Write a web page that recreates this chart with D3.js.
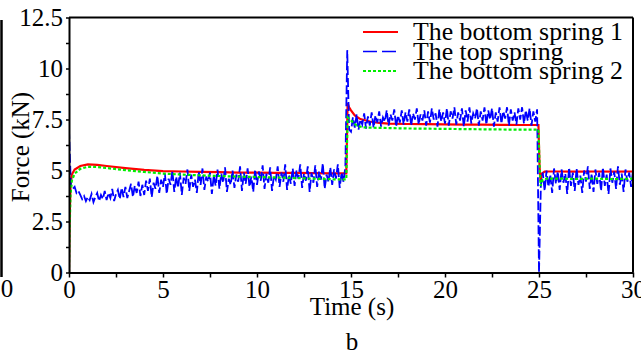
<!DOCTYPE html>
<html>
<head>
<meta charset="utf-8">
<script src="https://cdn.jsdelivr.net/npm/d3@7"></script>
<style>
  html, body { margin: 0; padding: 0; background: #fff; }
  svg { display: block; }
  text { font-family: "Liberation Serif", "Times New Roman", serif; }
</style>
</head>
<body>
<svg id="chart" width="641" height="354"></svg>
<script>
// ---------------- data ----------------
const seriesNames = ["The bottom spring 1", "The top spring", "The bottom spring 2"];

// bottom spring 1 (red)
const redTime = [0, 0.03, 0.08, 0.15, 0.3, 0.6, 1.0, 1.5, 2, 3, 4, 5, 6, 7, 8, 9, 10, 11, 12, 13, 14, 14.75,
  14.82, 14.9, 15.0, 15.2, 15.5, 16, 16.5, 17, 18, 19, 20, 21, 22, 23, 24, 24.97,
  25.03, 25.08, 25.15, 25.3, 26, 27, 28, 29, 30];
const redValues = [0, 2.5, 4.2, 4.8, 5.05, 5.22, 5.3, 5.28, 5.22, 5.12, 5.03, 4.97, 4.95, 4.93, 4.92, 4.9, 4.9, 4.88, 4.88, 4.87, 4.86, 4.86,
  8.3, 8.1, 7.95, 7.7, 7.52, 7.4, 7.33, 7.3, 7.28, 7.27, 7.26, 7.25, 7.25, 7.24, 7.23, 7.23,
  5.2, 4.5, 4.85, 4.95, 4.95, 4.94, 4.95, 4.94, 4.95];

// bottom spring 2 (green)
const greenTime = [0, 0.03, 0.08, 0.15, 0.3, 0.6, 1.0, 1.5, 2, 3, 4, 5, 6, 7, 8, 9, 10, 11, 12, 13, 14, 14.75,
  14.82, 15.0, 15.3, 15.6, 16, 17, 18, 20, 22, 24, 24.97,
  25.03, 25.08, 25.2, 25.4, 26, 27, 28, 29, 30];
const greenValues = [0, 2.0, 3.8, 4.5, 4.85, 5.08, 5.18, 5.17, 5.12, 5.02, 4.93, 4.85, 4.8, 4.76, 4.73, 4.7, 4.68, 4.66, 4.63, 4.6, 4.57, 4.56,
  7.6, 7.45, 7.2, 7.12, 7.1, 7.08, 7.06, 7.04, 7.02, 7.0, 7.0,
  5.3, 4.25, 4.55, 4.6, 4.6, 4.59, 4.6, 4.58, 4.6];

// top spring (blue), sampled every 0.1 s from 0 to 30 s
const blueStart = 0, blueStep = 0.1;
const blueValues = [
  7.0, 4.3, 4.1, 4.2, 3.9, 4.0, 3.8, 3.6, 3.75, 3.5,
  3.7, 3.55, 3.85, 3.45, 3.7, 3.9, 3.5, 3.8, 3.6, 4.0,
  3.55, 3.9, 3.65, 4.1, 3.5, 3.85, 4.05, 3.6, 4.15, 3.7,
  4.2, 3.65, 4.0, 4.35, 3.7, 4.25, 3.9, 4.45, 3.75, 4.3,
  3.8, 4.5, 4.0, 4.6, 3.7, 4.4, 4.1, 4.75, 3.9, 4.55,
  4.2, 4.85, 3.85, 4.6, 4.3, 5.0, 3.95, 4.7, 4.15, 4.9,
  3.8, 4.65, 4.35, 5.05, 4.0, 4.8, 4.2, 4.55, 3.9, 4.95,
  4.3, 5.1, 4.05, 4.7, 4.45, 4.9, 3.85, 4.75, 4.25, 5.05,
  4.1, 4.85, 4.4, 5.15, 3.95, 4.6, 4.3, 5.0, 4.15, 4.8,
  4.45, 5.2, 4.0, 4.9, 4.35, 5.1, 4.2, 4.7, 3.95, 5.05,
  4.3, 4.95, 4.5, 5.25, 4.1, 4.85, 4.4, 5.15, 4.0, 4.75,
  4.55, 5.2, 4.2, 4.9, 4.45, 5.3, 4.05, 4.8, 4.35, 5.1,
  4.25, 5.0, 4.6, 5.3, 4.15, 4.85, 4.5, 5.2, 3.95, 4.9,
  4.4, 5.25, 4.2, 4.95, 4.55, 5.35, 4.1, 4.8, 4.45, 5.15,
  4.3, 5.05, 4.6, 5.3, 4.15, 4.9, 4.45, 5.2, 10.9, 7.0,
  6.9, 7.6, 7.1, 7.75, 7.0, 7.5, 7.25, 7.8, 7.05, 7.65,
  7.2, 7.85, 7.1, 7.7, 7.35, 7.9, 7.15, 7.6, 7.4, 7.95,
  7.2, 7.75, 7.45, 8.0, 7.15, 7.7, 7.35, 7.95, 7.25, 7.85,
  7.4, 8.0, 7.2, 7.8, 7.5, 8.05, 7.25, 7.75, 7.45, 7.95,
  7.2, 7.9, 7.35, 8.05, 7.5, 7.8, 7.15, 8.0, 7.4, 7.85,
  7.3, 8.05, 7.2, 7.9, 7.55, 8.1, 7.25, 7.85, 7.45, 8.05,
  7.15, 7.95, 7.4, 8.1, 7.3, 7.8, 7.55, 8.05, 7.2, 7.9,
  7.45, 8.1, 7.25, 7.95, 7.5, 8.05, 7.15, 7.85, 7.4, 8.1,
  7.3, 7.9, 7.55, 8.1, 7.2, 8.0, 7.45, 7.85, 7.25, 8.05,
  7.5, 8.1, 7.3, 7.95, 7.45, 8.05, 7.2, 7.9, 7.4, 8.0,
  0, 4.3, 4.9, 4.0, 5.0, 4.2, 4.8, 3.9, 5.1, 4.35,
  4.95, 4.05, 5.05, 4.4, 4.85, 3.85, 5.15, 4.25, 4.9, 4.0,
  5.1, 4.3, 4.75, 3.9, 5.0, 4.45, 5.2, 4.1, 4.85, 3.95,
  5.05, 4.35, 4.9, 4.0, 5.15, 4.25, 4.8, 3.85, 5.1, 4.4,
  4.95, 4.1, 5.2, 4.3, 4.85, 3.95, 5.05, 4.45, 4.9, 4.2,
  5.0
];

const xTicks = [0, 2.5, 5, 7.5, 10, 12.5, 15, 17.5, 20, 22.5, 25, 27.5, 30];
const xTickLabels = ["0", "", "5", "", "10", "", "15", "", "20", "", "25", "", "30"];
const yTicks = [0, 1.25, 2.5, 3.75, 5, 6.25, 7.5, 8.75, 10, 11.25, 12.5];
const yTickLabels = ["0", "", "2.5", "", "5", "", "7.5", "", "10", "", "12.5"];

// ---------------- drawing ----------------
const svg = d3.select("#chart");
const FONT = 25;
const SERIF = "'Liberation Serif', 'Times New Roman', serif";
const x = d3.scaleLinear().domain([0, 30]).range([69, 633]);
const y = d3.scaleLinear().domain([0, 12.5]).range([272.5, 17.5]);

svg.append("defs").append("clipPath").attr("id", "plotclip")
  .append("rect").attr("x", x(0)).attr("y", y(12.5))
  .attr("width", x(30) - x(0)).attr("height", y(0) - y(12.5));

const plot = svg.append("g").attr("clip-path", "url(#plotclip)");

const redPts = redTime.map((t, i) => [t, redValues[i]]);
const greenPts = greenTime.map((t, i) => [t, greenValues[i]]);
const bluePts = blueValues.map((v, i) => [blueStart + i * blueStep, v]);

const line = d3.line().x(d => x(d[0])).y(d => y(d[1]));

plot.append("path").datum(redPts).attr("d", line)
  .attr("fill", "none").attr("stroke", "#ff0000").attr("stroke-width", 2.2);
plot.append("path").datum(bluePts).attr("d", line)
  .attr("fill", "none").attr("stroke", "#0000ff").attr("stroke-width", 1.8)
  .attr("stroke-dasharray", "9,3");
plot.append("path").datum(greenPts).attr("d", line)
  .attr("fill", "none").attr("stroke", "#00ee00").attr("stroke-width", 2.2)
  .attr("stroke-dasharray", "3,2");

// axes
const xAxis = d3.axisBottom(x).tickValues(xTicks)
  .tickFormat((d, i) => xTickLabels[i]).tickSize(5).tickSizeOuter(0).tickPadding(3);
const yAxis = d3.axisLeft(y).tickValues(yTicks)
  .tickFormat((d, i) => yTickLabels[i]).tickSize(3).tickSizeOuter(0).tickPadding(3);

const gx = svg.append("g").attr("transform", `translate(0,${y(0)})`).call(xAxis);
const gy = svg.append("g").attr("transform", `translate(${x(0)},0)`).call(yAxis);
[gx, gy].forEach(g => {
  g.attr("font-family", SERIF).attr("font-size", FONT);
  g.select(".domain").attr("stroke", "#000").attr("stroke-width", 2);
  g.selectAll(".tick line").attr("stroke", "#000").attr("stroke-width", 1.5);
  g.selectAll(".tick text").attr("fill", "#000")
    .style("font-family", SERIF).style("font-size", FONT + "px");
});

// frame (top and right)
svg.append("line").attr("x1", x(0)).attr("x2", x(30)).attr("y1", y(12.5)).attr("y2", y(12.5))
  .attr("stroke", "#000").attr("stroke-width", 2);
svg.append("line").attr("x1", x(30)).attr("x2", x(30)).attr("y1", y(12.5)).attr("y2", y(0))
  .attr("stroke", "#000").attr("stroke-width", 2);

// stray left edge line and "0"
svg.append("line").attr("x1", 1.5).attr("x2", 1.5).attr("y1", 20).attr("y2", 277)
  .attr("stroke", "#000").attr("stroke-width", 2.5);
svg.append("text").attr("x", 7).attr("y", 297).attr("text-anchor", "middle")
  .style("font-family", SERIF).style("font-size", FONT + "px").text("0");

// axis titles
svg.append("text").attr("x", 352).attr("y", 315).attr("text-anchor", "middle")
  .style("font-family", SERIF).style("font-size", FONT + "px").text("Time (s)");
svg.append("text").attr("transform", "translate(29,147) rotate(-90)").attr("text-anchor", "middle")
  .style("font-family", SERIF).style("font-size", FONT + "px").text("Force (kN)");
svg.append("text").attr("x", 352).attr("y", 350).attr("text-anchor", "middle")
  .style("font-family", SERIF).style("font-size", FONT + "px").text("b");

// legend
const legColors = ["#ff0000", "#0000ff", "#00ee00"];
const legDash = [null, "14,5", "3,2"];
const legWidth = [2, 1.6, 2];
seriesNames.forEach((name, i) => {
  const by = 40 + i * 19.5;
  svg.append("line").attr("x1", 363).attr("x2", 398).attr("y1", by - 8).attr("y2", by - 8)
    .attr("stroke", legColors[i]).attr("stroke-width", legWidth[i])
    .attr("stroke-dasharray", legDash[i]);
  svg.append("text").attr("x", 413).attr("y", by)
    .style("font-family", SERIF).style("font-size", "25.8px").text(name);
});
</script>
</body>
</html>
